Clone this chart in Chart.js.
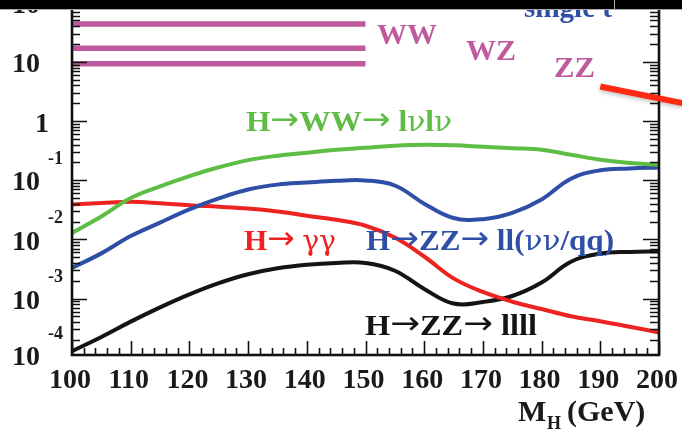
<!DOCTYPE html>
<html>
<head>
<meta charset="utf-8">
<script src="https://cdn.jsdelivr.net/npm/chart.js@4/dist/chart.umd.min.js"></script>
<style>
  html, body { margin: 0; padding: 0; background: #fff; }
  #wrap { width: 682px; height: 433px; position: relative; }
</style>
</head>
<body>
<div id="wrap"><canvas id="c" width="682" height="433"></canvas></div>
<script>
// Higgs mass points (GeV)
const massPoints = [100,105,110,115,120,125,130,135,140,145,150,155,160,165,170,175,180,185,190,195,200];

// sigma x BR for each Higgs decay channel (pb)
const hWWlvlv = [0.01285,0.02432,0.04989,0.07852,0.1173,0.1651,0.2183,0.2594,0.2911,0.3273,0.3535,0.382,0.3972,0.3897,0.3675,0.3467,0.3273,0.2694,0.2218,0.1951,0.1828];
const hZZllvv = [0.003297,0.005794,0.01135,0.01919,0.03201,0.0491,0.06941,0.0841,0.0912,0.0977,0.0989,0.0813,0.04012,0.02293,0.02196,0.02805,0.04723,0.106,0.1469,0.1575,0.1644];
const hGamGam = [0.0389,0.0412,0.0432,0.0407,0.0376,0.0355,0.0331,0.0295,0.0251,0.0214,0.0170,0.01072,0.00513,0.00219,0.00129,0.000883,0.000665,0.000501,0.000414,0.000334,0.000267];
const hZZ4l   = [0.000129,0.000224,0.000407,0.000708,0.001175,0.00182,0.00257,0.00324,0.00372,0.00398,0.00398,0.00295,0.001452,0.000823,0.000873,0.001102,0.001862,0.004179,0.005747,0.00614,0.006286];

// diboson backgrounds, drawn as flat bands over the low-mass range
const dibosonNames = ['WW','WZ','ZZ'];
const dibosonXsec  = [43.8, 16.9, 9.25];
const dibosonRange = [100, 150];

// pointer arrow ends: [mass, sigma]
const pointerFrom = [190, 3.83];
const pointerTo   = [204, 2.01];

// axis ranges and labels
const massRange = [100, 200];
const massTicks = [100,110,120,130,140,150,160,170,180,190,200];
const xsecRange = [1.11e-4, 111];
const xsecExps  = [-4,-3,-2,-1,0,1,2];

const C_GREEN = '#5dbd44';
const C_BLUE  = '#2f4fa6';
const C_RED   = '#ec2320';
const C_BLACK = '#141414';
const C_MAG   = '#c05a9f';

const pts = arr => massPoints.map((m, i) => ({x: m, y: arr[i]}));

const diboson = dibosonXsec.map((v, i) => ({
  label: dibosonNames[i],
  data: [{x: dibosonRange[0], y: v}, {x: dibosonRange[1], y: v}],
  borderColor: C_MAG, borderWidth: 5.5, pointRadius: 0, tension: 0,
  borderCapStyle: 'butt'
}));

const curve = (label, arr, color) => ({
  label, data: pts(arr), borderColor: color, borderWidth: 4,
  pointRadius: 0, tension: 0.4,
  borderCapStyle: 'butt', borderJoinStyle: 'round'
});

const SERIF = '"Liberation Serif", "DejaVu Serif", serif';
const ARROWF = '"DejaVu Sans", sans-serif';
const GREEKF = '"DejaVu Serif", serif';
const GREEK = /[\u03b3\u03bd]/;

// label made of runs: arrows and Greek letters take their own fonts;
// the whole run is squeezed horizontally to the given width
function richText(ctx, text, x, y, color, size, width) {
  const runs = [];
  for (const ch of text) {
    const kind = ch === '\u2192' ? 'a' : GREEK.test(ch) ? 'g' : 't';
    if (runs.length && runs[runs.length - 1].kind === kind) runs[runs.length - 1].s += ch;
    else runs.push({kind, s: ch});
  }
  const fontOf = k => k === 'a' ? (size * 1.1).toFixed(1) + 'px ' + ARROWF
                    : k === 'g' ? (size * 0.95).toFixed(1) + 'px ' + GREEKF
                    : 'bold ' + size + 'px ' + SERIF;
  let total = 0;
  runs.forEach(r => { ctx.font = fontOf(r.kind); r.w = ctx.measureText(r.s).width; total += r.w; });
  const sx = width ? width / total : 1;
  ctx.save();
  ctx.translate(x, y);
  ctx.scale(sx, 1);
  ctx.fillStyle = color;
  ctx.textAlign = 'left';
  ctx.textBaseline = 'alphabetic';
  let cx = 0;
  runs.forEach(r => {
    ctx.font = fontOf(r.kind);
    ctx.fillText(r.s, cx, r.kind === 'a' ? -size * 0.04 : 0);
    cx += r.w;
  });
  ctx.restore();
}

// frame, inward tick marks, axis labels and channel annotations
const decor = {
  id: 'decor',
  afterDraw(chart) {
    const ctx = chart.ctx;
    const xs = chart.scales.x, ys = chart.scales.y;
    const a = chart.chartArea;
    ctx.save();

    // tick marks on left, right and bottom edges
    ctx.strokeStyle = '#111';
    ctx.lineWidth = 1.6;
    for (let e = -4; e <= 2; e++) {
      for (let k = 1; k <= 9; k++) {
        const v = k * Math.pow(10, e);
        if (v < xsecRange[0] || v > xsecRange[1]) continue;
        const py = Math.round(ys.getPixelForValue(v)) + 0.5;
        const major = k === 1;
        ctx.beginPath();
        ctx.moveTo(a.left, py); ctx.lineTo(a.left + (major ? 15 : 8), py);
        ctx.moveTo(a.right, py); ctx.lineTo(a.right - (major ? 16 : 9), py);
        ctx.stroke();
      }
    }
    for (let m = massRange[0]; m <= massRange[1]; m += 2) {
      const px = Math.round(xs.getPixelForValue(m)) + 0.5;
      const major = m % 10 === 0;
      ctx.beginPath();
      ctx.moveTo(px, a.bottom); ctx.lineTo(px, a.bottom - (major ? 14 : 7));
      ctx.stroke();
    }

    // frame
    ctx.lineWidth = 2.6;
    ctx.strokeStyle = '#111';
    ctx.strokeRect(a.left, a.top, a.right - a.left, a.bottom - a.top);

    // x tick labels
    ctx.fillStyle = '#1a1a1a';
    ctx.font = 'bold 28px ' + SERIF;
    ctx.textAlign = 'center';
    ctx.textBaseline = 'middle';
    massTicks.forEach(m => {
      ctx.fillText(String(m), xs.getPixelForValue(m) - 2, 381);
    });

    // x axis title: M_H (GeV)
    ctx.textAlign = 'left';
    ctx.textBaseline = 'alphabetic';
    ctx.font = 'bold 30px ' + SERIF;
    ctx.fillText('M', 518, 421);
    ctx.font = 'bold 18px ' + SERIF;
    ctx.fillText('H', 547, 429);
    ctx.font = 'bold 30px ' + SERIF;
    ctx.fillText('(GeV)', 567, 421);

    // y tick labels, 10 with a raised exponent
    ctx.fillStyle = '#1a1a1a';
    xsecExps.forEach(e => {
      let py = ys.getPixelForValue(Math.pow(10, e));
      if (e === -4) py = Math.min(py, a.bottom);
      ctx.textBaseline = 'middle';
      if (e === 0) {
        ctx.font = 'bold 28px ' + SERIF;
        ctx.textAlign = 'center';
        ctx.fillText('1', 42, py + 4);
        return;
      }
      ctx.font = 'bold 28px ' + SERIF;
      ctx.textAlign = 'left';
      ctx.fillText('10', 12, py + 3);
      if (e !== 1) {
        ctx.font = 'bold 18px ' + SERIF;
        ctx.fillText(String(e), 48, py - 21);
      }
    });

    // background and channel annotations
    richText(ctx, 'WW', 377, 44, C_MAG, 29, 60);
    richText(ctx, 'WZ', 466, 60, C_MAG, 29, 50);
    richText(ctx, 'ZZ', 554, 77, C_MAG, 29, 41);
    richText(ctx, 'single t', 524, 17, C_BLUE, 29, 88);

    richText(ctx, 'H\u2192WW\u2192 l\u03bdl\u03bd', 246, 131, C_GREEN, 29, 206);
    richText(ctx, 'H\u2192 \u03b3\u03b3', 244, 250, C_RED, 29, 92);
    richText(ctx, 'H\u2192ZZ\u2192 ll(\u03bd\u03bd/qq)', 366, 250, C_BLUE, 29, 248);
    richText(ctx, 'H\u2192ZZ\u2192 llll', 365, 335, C_BLACK, 29, 172);

    // red pointer shaft leaving the frame at upper right
    ctx.shadowColor = 'rgba(0,0,0,0.25)';
    ctx.shadowBlur = 4;
    ctx.shadowOffsetY = 2;
    ctx.strokeStyle = '#ff2a10';
    ctx.lineWidth = 6;
    ctx.lineCap = 'butt';
    ctx.beginPath();
    ctx.moveTo(xs.getPixelForValue(pointerFrom[0]), ys.getPixelForValue(pointerFrom[1]));
    ctx.lineTo(xs.getPixelForValue(pointerTo[0]), ys.getPixelForValue(pointerTo[1]));
    ctx.stroke();
    ctx.shadowColor = 'transparent';
    ctx.shadowBlur = 0;
    ctx.shadowOffsetY = 0;

    // window strip across the top edge
    ctx.fillStyle = '#000';
    ctx.fillRect(0, 0, chart.width, 9);
    ctx.fillStyle = '#a8a8a8';
    ctx.fillRect(0, 9, chart.width, 1);
    ctx.fillRect(614, 0, 1, 9);
    ctx.restore();
  }
};

new Chart(document.getElementById('c'), {
  type: 'line',
  data: {
    datasets: [
      ...diboson,
      curve('H\u2192WW\u2192l\u03bdl\u03bd', hWWlvlv, C_GREEN),
      curve('H\u2192ZZ\u2192ll(\u03bd\u03bd/qq)', hZZllvv, C_BLUE),
      curve('H\u2192\u03b3\u03b3', hGamGam, C_RED),
      curve('H\u2192ZZ\u2192llll', hZZ4l, C_BLACK)
    ]
  },
  options: {
    responsive: false,
    devicePixelRatio: 1,
    animation: false,
    layout: { padding: { left: 72, right: 23, top: 0, bottom: 78 } },
    plugins: { legend: { display: false }, tooltip: { enabled: false } },
    scales: {
      x: { type: 'linear', min: massRange[0], max: massRange[1], display: false },
      y: { type: 'logarithmic', min: xsecRange[0], max: xsecRange[1], display: false }
    }
  },
  plugins: [decor]
});
</script>
</body>
</html>
